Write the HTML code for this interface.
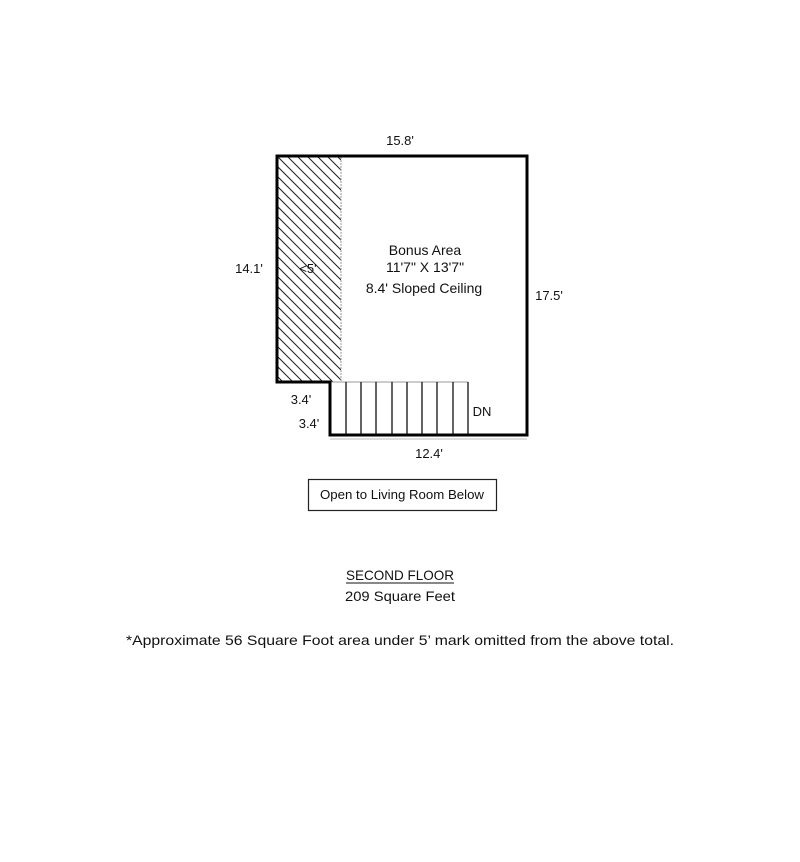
<!DOCTYPE html>
<html><head><style>
html,body{margin:0;padding:0;background:#fff;}
svg{display:block;}
text{font-family:"Liberation Sans",Arial,sans-serif;fill:#111;}
</style></head><body>
<svg width="800" height="862" viewBox="0 0 800 862" xmlns="http://www.w3.org/2000/svg">
<defs>
<clipPath id="hc"><rect x="278" y="157" width="63" height="225"/></clipPath>
</defs>
<g clip-path="url(#hc)" stroke="#222" stroke-width="1">
<path d="M218 157 l280 280 M228 157 l280 280 M238 157 l280 280 M248 157 l280 280 M258 157 l280 280 M268 157 l280 280 M278 157 l280 280 M288 157 l280 280 M298 157 l280 280 M308 157 l280 280 M318 157 l280 280 M328 157 l280 280 M338 157 l280 280
M278 167 l280 280 M278 177 l280 280 M278 187 l280 280 M278 197 l280 280 M278 207 l280 280 M278 217 l280 280 M278 227 l280 280 M278 237 l280 280 M278 247 l280 280 M278 257 l280 280 M278 267 l280 280 M278 277 l280 280 M278 287 l280 280 M278 297 l280 280 M278 307 l280 280 M278 317 l280 280 M278 327 l280 280 M278 337 l280 280 M278 347 l280 280 M278 357 l280 280 M278 367 l280 280 M278 377 l280 280"/>
</g>
<line x1="341" y1="157" x2="341" y2="382" stroke="#999" stroke-width="1" stroke-dasharray="2,1"/>
<line x1="330" y1="382" x2="468" y2="382" stroke="#999" stroke-width="1"/>
<g stroke="#111" stroke-width="1.3">
<line x1="346" y1="382" x2="346" y2="435"/><line x1="361" y1="382" x2="361" y2="435"/>
<line x1="376" y1="382" x2="376" y2="435"/><line x1="392" y1="382" x2="392" y2="435"/>
<line x1="407" y1="382" x2="407" y2="435"/><line x1="422" y1="382" x2="422" y2="435"/>
<line x1="437" y1="382" x2="437" y2="435"/><line x1="453" y1="382" x2="453" y2="435"/>
<line x1="468" y1="382" x2="468" y2="435"/>
</g>
<path d="M277 156 H527 V435 H330 V382 H277 Z" fill="none" stroke="#000" stroke-width="3"/>
<line x1="330" y1="439" x2="527" y2="439" stroke="#bbb" stroke-width="1"/>
<g font-size="13">
<text x="400" y="145" text-anchor="middle">15.8'</text>
<text x="249" y="273" text-anchor="middle">14.1'</text>
<text x="549" y="300" text-anchor="middle">17.5'</text>
<text x="308" y="273" text-anchor="middle">&lt;5'</text>
<text x="425" y="255" text-anchor="middle" font-size="14">Bonus Area</text>
<text x="425" y="272" text-anchor="middle" font-size="14">11'7" X 13'7"</text>
<text x="424" y="293" text-anchor="middle" font-size="14">8.4' Sloped Ceiling</text>
<text x="301" y="404" text-anchor="middle">3.4'</text>
<text x="309" y="428" text-anchor="middle">3.4'</text>
<text x="482" y="416" text-anchor="middle">DN</text>
<text x="429" y="458" text-anchor="middle">12.4'</text>
</g>
<rect x="308.5" y="479.5" width="188" height="31" fill="none" stroke="#222" stroke-width="1.2"/>
<text x="402" y="499" text-anchor="middle" font-size="13" textLength="164" lengthAdjust="spacingAndGlyphs">Open to Living Room Below</text>
<text x="400" y="580" text-anchor="middle" font-size="14" textLength="108" lengthAdjust="spacingAndGlyphs">SECOND FLOOR</text>
<line x1="346" y1="583" x2="454" y2="583" stroke="#111" stroke-width="1"/>
<text x="400" y="601" text-anchor="middle" font-size="14" textLength="110" lengthAdjust="spacingAndGlyphs">209 Square Feet</text>
<text x="400" y="645" text-anchor="middle" font-size="14" textLength="548" lengthAdjust="spacingAndGlyphs">*Approximate 56 Square Foot area under 5’ mark omitted from the above total.</text>
</svg>
</body></html>
